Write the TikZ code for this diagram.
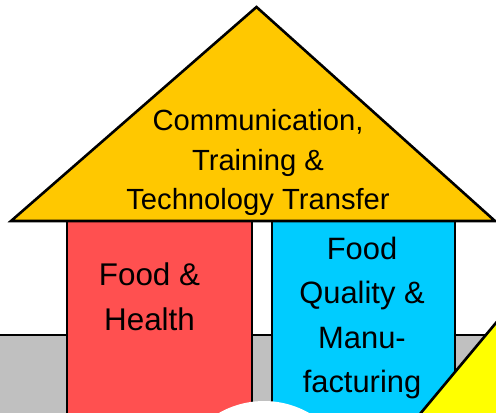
\documentclass[tikz,border=0pt]{standalone}
\usepackage{fontspec}
\setmainfont{Liberation Sans}
\definecolor{roofyellow}{HTML}{FFC800}
\definecolor{healthred}{HTML}{FF5050}
\definecolor{qualitycyan}{HTML}{00CCFF}
\definecolor{groundgray}{HTML}{C0C0C0}
\definecolor{cornery}{HTML}{FFFF00}
\begin{document}
\begin{tikzpicture}[x=1bp,y=-1bp,line width=2.6bp,
  part/.style={draw=black},
  every node/.style={align=center,inner sep=0pt}]
  \useasboundingbox (0,0) rectangle (496,412);
  \clip (0,0) rectangle (496,412);
  % ground band
  \filldraw[part,fill=groundgray] (-10,335) rectangle (510,440);
  % pillars and roof
  \filldraw[part,fill=healthred] (67,221) rectangle (252,440);
  \filldraw[part,fill=qualitycyan] (272,221) rectangle (455,440);
  \filldraw[part,fill=roofyellow,line join=miter] (11,221) -- (256.5,7) -- (495,221) -- cycle;
  % bits at the bottom
  \fill[white] (264,492) circle (91);
  \filldraw[part,fill=cornery] (400,438) -- (520,294) -- (520,438) -- cycle;
  % texts
  \node[font=\fontsize{29.3}{39.5}\selectfont] (roof) at (258,162.5)
    {Communication,\\Training \&\\Technology Transfer};
  \node[font=\fontsize{31.5}{45}\selectfont] (health) at (149.5,297) {Food \&\\Health};
  \node[font=\fontsize{31}{44.5}\selectfont] (quality) at (362,318)
    {Food\\Quality \&\\Manu-\\facturing};
\end{tikzpicture}
\end{document}
